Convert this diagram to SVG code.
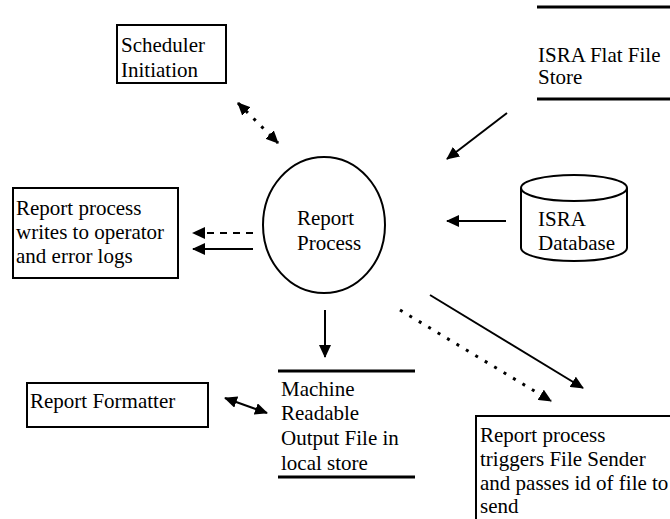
<svg xmlns="http://www.w3.org/2000/svg" width="670" height="519" viewBox="0 0 670 519">
<defs>
<marker id="ah" markerUnits="userSpaceOnUse" markerWidth="14" markerHeight="12" refX="12" refY="6" orient="auto-start-reverse" viewBox="0 0 14 12">
<path d="M0,0 L13,6 L0,12 Z" fill="#000"/>
</marker>
</defs>
<style>
text{font-family:"Liberation Serif","Times New Roman",serif;font-size:21px;fill:#000}
.box{fill:#fff;stroke:#000;stroke-width:2}
.ln{stroke:#000;stroke-width:2;fill:none}
.thick{stroke:#000;stroke-width:3;fill:none}
.dot{stroke:#000;stroke-width:3;fill:none;stroke-dasharray:3,8}
.dash{stroke:#000;stroke-width:2;fill:none;stroke-dasharray:7,6}
</style>
<rect width="670" height="519" fill="#fff"/>
<g id="scheduler">
<rect class="box" x="117" y="25" width="109" height="58"/>
<text x="121" y="52">Scheduler</text>
<text x="121" y="77">Initiation</text>
</g>
<g id="flatfile">
<line class="thick" x1="537" y1="7" x2="670" y2="7"/>
<line class="thick" x1="537" y1="99" x2="670" y2="99"/>
<text x="538" y="62">ISRA Flat File</text>
<text x="538" y="84">Store</text>
</g>
<g id="process">
<ellipse class="ln" cx="324" cy="225" rx="61" ry="68"/>
<text x="297" y="225">Report</text>
<text x="297" y="250">Process</text>
</g>
<g id="logs">
<rect class="box" x="13" y="188" width="165" height="90"/>
<text x="16" y="215">Report process</text>
<text x="16" y="239">writes to operator</text>
<text x="16" y="263">and error logs</text>
</g>
<g id="database">
<path class="ln" d="M521,188 L521,248 A53,13 0 0 0 627,248 L627,188"/>
<ellipse class="ln" cx="574" cy="188" rx="53" ry="13"/>
<text x="538" y="226">ISRA</text>
<text x="538" y="250">Database</text>
</g>
<g id="formatter">
<rect class="box" x="27" y="383" width="181" height="44"/>
<text x="30" y="408">Report Formatter</text>
</g>
<g id="outputfile">
<line class="thick" x1="278" y1="371" x2="415" y2="371"/>
<line class="thick" x1="278" y1="477" x2="415" y2="477"/>
<text x="281" y="396">Machine</text>
<text x="281" y="420">Readable</text>
<text x="281" y="445">Output File in</text>
<text x="281" y="470">local store</text>
</g>
<g id="filesender">
<rect class="box" x="476" y="416" width="200" height="110"/>
<text x="480" y="442">Report process</text>
<text x="480" y="466">triggers File Sender</text>
<text x="480" y="490">and passes id of file to</text>
<text x="480" y="513">send</text>
</g>
<g id="connectors">
<line class="dot" x1="238" y1="103" x2="278" y2="143" marker-start="url(#ah)" marker-end="url(#ah)"/>
<line class="ln" x1="507" y1="113" x2="447" y2="159" marker-end="url(#ah)"/>
<line class="dash" x1="253" y1="233" x2="193" y2="233" marker-end="url(#ah)"/>
<line class="ln" x1="253" y1="249" x2="193" y2="249" marker-end="url(#ah)"/>
<line class="ln" x1="506" y1="221" x2="447" y2="221" marker-end="url(#ah)"/>
<line class="ln" x1="325" y1="310" x2="325" y2="357" marker-end="url(#ah)"/>
<line class="ln" x1="225" y1="398" x2="267" y2="413" marker-start="url(#ah)" marker-end="url(#ah)"/>
<line class="ln" x1="430" y1="295" x2="583" y2="388" marker-end="url(#ah)"/>
<line class="dot" x1="400" y1="310" x2="551" y2="401" marker-end="url(#ah)"/>
</g>
</svg>
